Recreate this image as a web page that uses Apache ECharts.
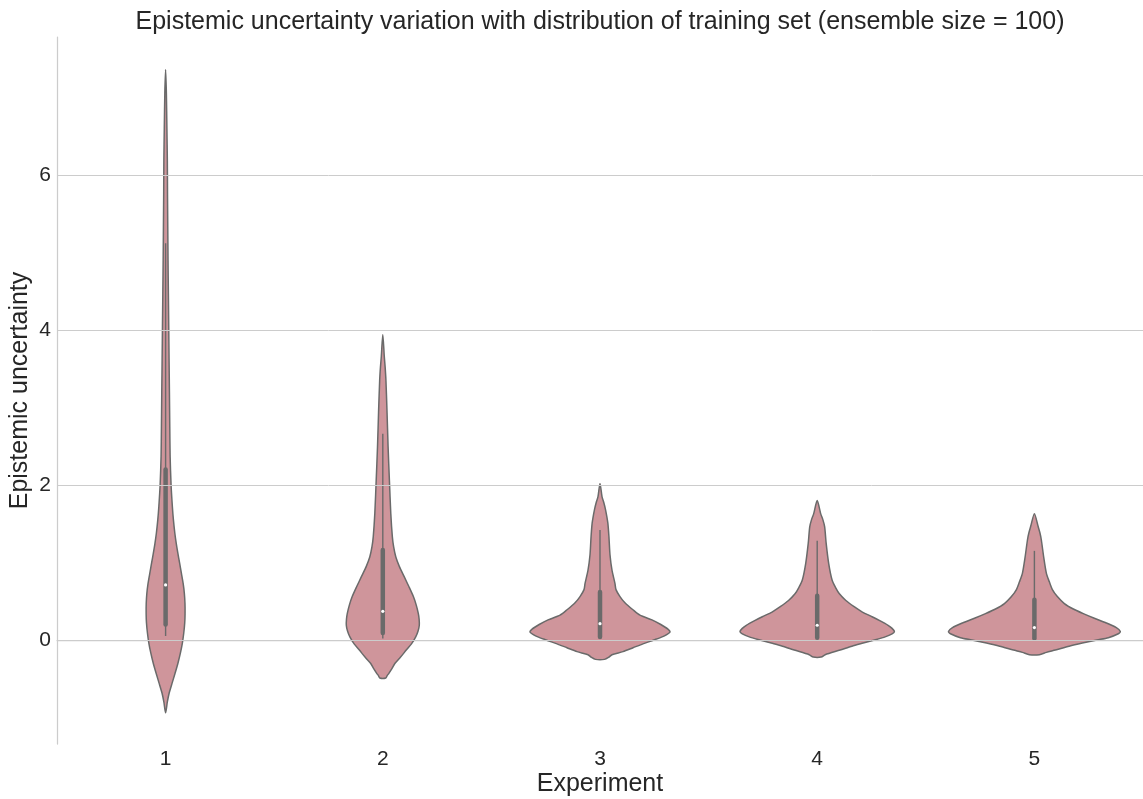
<!DOCTYPE html>
<html><head><meta charset="utf-8">
<script src="https://cdn.jsdelivr.net/npm/echarts@6/dist/echarts.min.js"></script>
<style>html,body{margin:0;padding:0;background:#fff}#chart{width:1143px;height:799px}</style>
</head><body><div id="chart"></div>
<script>
// ---- data ----
const categories = ['1', '2', '3', '4', '5'];
const yTicks = [0, 2, 4, 6];
const titleText = 'Epistemic uncertainty variation with distribution of training set (ensemble size = 100)';

// violin density profiles: y levels and relative kernel density (1 = widest violin)
const violin1Y = [-0.94, -0.80, -0.69, -0.56, -0.43, -0.30, -0.17, -0.04, 0.09, 0.22, 0.34, 0.47, 0.60, 0.73, 0.86, 1.00, 1.12, 1.25, 1.38, 1.55, 1.72, 2.00, 2.37, 2.75, 3.20, 3.61, 4.05, 4.47, 4.90, 5.33, 5.75, 6.19, 6.60, 7.05, 7.36];
const violin1D = [0, 0.020, 0.040, 0.074, 0.109, 0.142, 0.170, 0.193, 0.209, 0.220, 0.224, 0.223, 0.216, 0.202, 0.182, 0.160, 0.141, 0.122, 0.106, 0.090, 0.078, 0.063, 0.052, 0.048, 0.044, 0.040, 0.036, 0.032, 0.028, 0.025, 0.022, 0.020, 0.015, 0.009, 0];
const violin2Y = [-0.49, -0.46, -0.43, -0.37, -0.30, -0.22, -0.13, -0.05, 0.04, 0.12, 0.19, 0.27, 0.34, 0.45, 0.56, 0.69, 0.82, 0.95, 1.07, 1.20, 1.33, 1.63, 2.06, 2.49, 2.93, 3.35, 3.52, 3.66, 3.94];
const violin2D = [0.035, 0.050, 0.070, 0.105, 0.141, 0.205, 0.270, 0.330, 0.379, 0.407, 0.420, 0.418, 0.409, 0.385, 0.352, 0.300, 0.245, 0.190, 0.150, 0.125, 0.110, 0.092, 0.076, 0.061, 0.049, 0.036, 0.027, 0.017, 0];
const violin3Y = [-0.25, -0.22, -0.19, -0.15, -0.10, -0.05, 0.00, 0.05, 0.10, 0.14, 0.20, 0.26, 0.32, 0.39, 0.48, 0.56, 0.65, 0.73, 0.90, 1.10, 1.33, 1.51, 1.68, 1.78, 1.85, 2.02];
const violin3D = [0.052, 0.103, 0.138, 0.264, 0.380, 0.494, 0.620, 0.736, 0.805, 0.782, 0.700, 0.598, 0.460, 0.379, 0.287, 0.230, 0.184, 0.172, 0.138, 0.115, 0.103, 0.090, 0.064, 0.042, 0.023, 0];
const violin4Y = [-0.22, -0.19, -0.13, -0.08, -0.04, 0.00, 0.04, 0.08, 0.11, 0.15, 0.19, 0.25, 0.30, 0.36, 0.43, 0.51, 0.60, 0.68, 0.77, 0.99, 1.25, 1.46, 1.55, 1.63, 1.80];
const violin4D = [0.046, 0.092, 0.264, 0.400, 0.529, 0.660, 0.782, 0.862, 0.889, 0.862, 0.816, 0.720, 0.632, 0.520, 0.425, 0.330, 0.253, 0.210, 0.172, 0.132, 0.103, 0.086, 0.066, 0.040, 0];
const violin5Y = [-0.19, -0.16, -0.13, -0.08, -0.04, 0.00, 0.03, 0.08, 0.11, 0.16, 0.22, 0.28, 0.34, 0.40, 0.47, 0.56, 0.65, 0.75, 0.86, 1.07, 1.29, 1.38, 1.46, 1.63];
const violin5D = [0.057, 0.138, 0.241, 0.400, 0.552, 0.720, 0.851, 0.966, 0.989, 0.943, 0.828, 0.690, 0.563, 0.448, 0.345, 0.264, 0.207, 0.172, 0.138, 0.107, 0.080, 0.064, 0.044, 0];

// inner box statistics
const whiskerLow  = [0.05, 0.02, 0.03, 0.02, 0.01];
const boxQ1       = [0.20, 0.09, 0.04, 0.03, 0.02];
const boxMedian   = [0.71, 0.37, 0.21, 0.19, 0.16];
const boxQ3       = [2.20, 1.16, 0.62, 0.57, 0.52];
const whiskerHigh = [5.12, 2.66, 1.42, 1.28, 1.15];

const violinY = [violin1Y, violin2Y, violin3Y, violin4Y, violin5Y];
const violinD = [violin1D, violin2D, violin3D, violin4D, violin5D];

// ---- styles ----
const FONT = '"Liberation Sans", Arial, sans-serif';
const TEXT = '#262626';
const LIGHT = '#cccccc';
const FILL = '#cf959b';
const EDGE = '#6a6a6a';

const chart = echarts.init(document.getElementById('chart'), null, {renderer: 'canvas'});

function renderViolin(params, api) {
  const i = api.value(0);
  const band = api.size([1, 0])[0];
  const cx = api.coord([i, 0])[0];
  const ys = violinY[i], ds = violinD[i];
  const n = ys.length;
  const half = 0.4 * band;
  const pts = [];
  for (let k = 0; k < n; k++) {
    pts.push([cx + ds[k] * half, api.coord([i, ys[k]])[1]]);
  }
  for (let k = n - 1; k >= 0; k--) {
    if (ds[k] === 0) continue;
    pts.push([cx - ds[k] * half, api.coord([i, ys[k]])[1]]);
  }
  const yLo = api.coord([i, api.value(1)])[1];
  const yQ1 = api.coord([i, api.value(2)])[1];
  const yMed = api.coord([i, api.value(3)])[1];
  const yQ3 = api.coord([i, api.value(4)])[1];
  const yHi = api.coord([i, api.value(5)])[1];
  return {
    type: 'group',
    children: [
      {type: 'polygon', shape: {points: pts, smooth: 0.25},
       style: {fill: FILL, stroke: EDGE, lineWidth: 1.5, lineJoin: 'round'}},
      {type: 'line', shape: {x1: cx, y1: yLo, x2: cx, y2: yHi},
       style: {stroke: EDGE, lineWidth: 1.4}},
      {type: 'line', shape: {x1: cx, y1: yQ1, x2: cx, y2: yQ3},
       style: {stroke: EDGE, lineWidth: 4.5, lineCap: 'round'}},
      {type: 'circle', shape: {cx: cx, cy: yMed, r: 1.6},
       style: {fill: '#ffffff'}}
    ]
  };
}

const option = {
  backgroundColor: '#ffffff',
  animation: false,
  graphic: [{
    type: 'text', x: 600, y: 22, z: 10,
    style: {text: titleText, fontFamily: FONT, fontSize: 25, fill: TEXT,
            textAlign: 'center', textVerticalAlign: 'middle'}
  }],
  grid: {left: 57, right: 0, top: 37, bottom: 55, containLabel: false, outerBoundsMode: 'none'},
  xAxis: {
    type: 'category',
    data: categories,
    boundaryGap: true,
    name: 'Experiment',
    nameLocation: 'middle',
    nameGap: 28,
    nameMoveOverlap: false,
    nameTextStyle: {fontFamily: FONT, fontSize: 25, color: TEXT},
    axisLine: {show: true, lineStyle: {color: LIGHT, width: 1.25}},
    axisTick: {show: false},
    axisLabel: {fontFamily: FONT, fontSize: 21, color: TEXT, margin: 5},
    splitLine: {show: false}
  },
  yAxis: {
    type: 'value',
    min: -1.342,
    max: 7.78,
    name: 'Epistemic uncertainty',
    nameLocation: 'middle',
    nameGap: 24,
    nameRotate: 90,
    nameMoveOverlap: false,
    nameTextStyle: {fontFamily: FONT, fontSize: 25, color: TEXT},
    axisLine: {show: true, lineStyle: {color: LIGHT, width: 1.25}},
    axisTick: {show: false, customValues: yTicks},
    axisLabel: {fontFamily: FONT, fontSize: 21, color: TEXT, margin: 6, customValues: yTicks},
    splitLine: {show: false}
  },
  series: [
    {
      type: 'line',
      data: [],
      silent: true,
      markLine: {
        silent: true,
        symbol: ['none', 'none'],
        label: {show: false},
        lineStyle: {color: LIGHT, type: 'solid', width: 1},
        data: yTicks.map(v => ({yAxis: v}))
      },
      z: 1
    },
    {
      type: 'custom',
      renderItem: renderViolin,
      data: categories.map((c, i) => [i, whiskerLow[i], boxQ1[i], boxMedian[i], boxQ3[i], whiskerHigh[i]]),
      encode: {x: 0, y: [1, 2, 3, 4, 5]},
      z: 3
    }
  ]
};
chart.setOption(option);
</script>
</body></html>
